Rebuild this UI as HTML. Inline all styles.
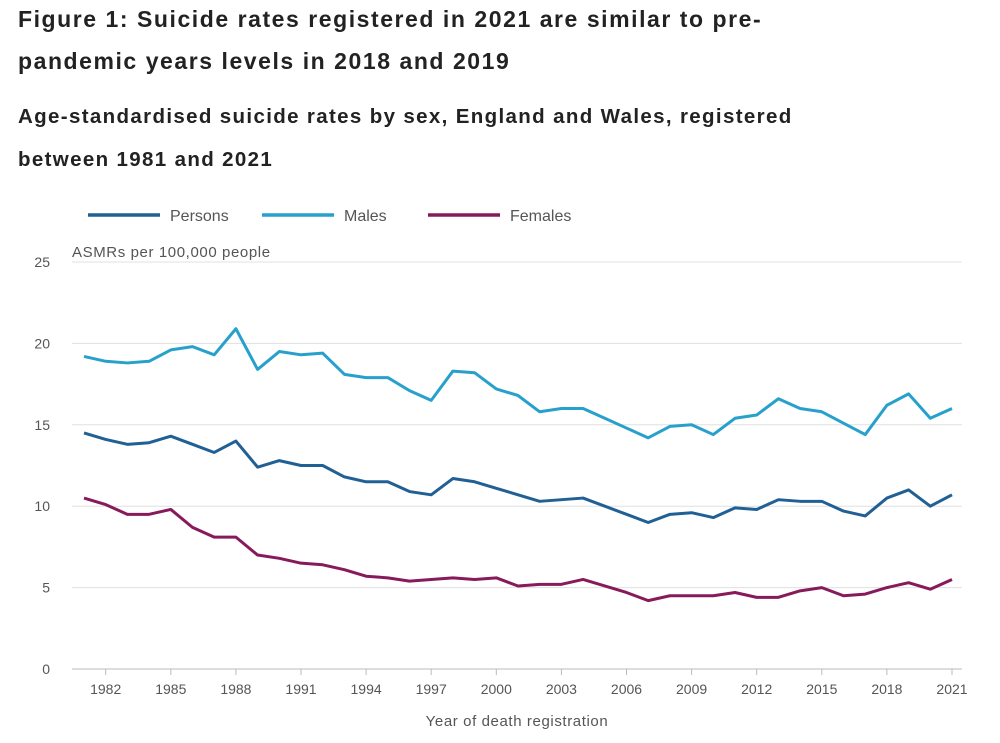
<!DOCTYPE html>
<html><head><meta charset="utf-8"><style>
body{margin:0;width:1000px;height:743px;background:#fff;font-family:"Liberation Sans",sans-serif;overflow:hidden;position:relative}
.t{position:absolute;left:18px;font-weight:bold;color:#222;margin:0;white-space:nowrap}
</style></head><body>
<h1 class="t" style="top:-2px;font-size:23px;line-height:42px;letter-spacing:1.55px">Figure 1: Suicide rates registered in 2021 are similar to pre-<br>pandemic years levels in 2018 and 2019</h1>
<h2 class="t" style="top:95px;font-size:20.5px;line-height:43px;letter-spacing:1.35px">Age-standardised suicide rates by sex, England and Wales, registered<br>between 1981 and 2021</h2>
<svg id="c" width="1000" height="743" style="position:absolute;left:0;top:0" font-family="Liberation Sans, sans-serif"></svg>
<script>
const years=[];for(let y=1981;y<=2021;y++)years.push(y);
const persons=[14.5,14.1,13.8,13.9,14.3,13.8,13.3,14.0,12.4,12.8,12.5,12.5,11.8,11.5,11.5,10.9,10.7,11.7,11.5,11.1,10.7,10.3,10.4,10.5,10.0,9.5,9.0,9.5,9.6,9.3,9.9,9.8,10.4,10.3,10.3,9.7,9.4,10.5,11.0,10.0,10.7];
const males=[19.2,18.9,18.8,18.9,19.6,19.8,19.3,20.9,18.4,19.5,19.3,19.4,18.1,17.9,17.9,17.1,16.5,18.3,18.2,17.2,16.8,15.8,16.0,16.0,15.4,14.8,14.2,14.9,15.0,14.4,15.4,15.6,16.6,16.0,15.8,15.1,14.4,16.2,16.9,15.4,16.0];
const females=[10.5,10.1,9.5,9.5,9.8,8.7,8.1,8.1,7.0,6.8,6.5,6.4,6.1,5.7,5.6,5.4,5.5,5.6,5.5,5.6,5.1,5.2,5.2,5.5,5.1,4.7,4.2,4.5,4.5,4.5,4.7,4.4,4.4,4.8,5.0,4.5,4.6,5.0,5.3,4.9,5.5];
const yTicks=[0,5,10,15,20,25];
const xTicks=[1982,1985,1988,1991,1994,1997,2000,2003,2006,2009,2012,2015,2018,2021];
const svg=document.getElementById('c');const NS='http://www.w3.org/2000/svg';
const x=v=>84+(v-1981)*(952-84)/40;
const y=v=>669-v*(669-262)/25;
function mk(t,a,p){const e=document.createElementNS(NS,t);for(const k in a)e.setAttribute(k,a[k]);(p||svg).appendChild(e);return e;}
yTicks.forEach(v=>{
 const g=mk('line',{x1:72,x2:962,y1:y(v),y2:y(v),stroke:v===0?'#bbb':'#e0e0e0','stroke-width':1});
 
 
 const t=mk('text',{x:50,y:y(v)+5,'text-anchor':'end','font-size':14,fill:'#555'});t.textContent=v;
 
 
});
xTicks.forEach(v=>{
 const l=mk('line',{x1:x(v),x2:x(v),y1:669,y2:675,stroke:'#bbb'});
 
 
 const t=mk('text',{x:x(v),y:694,'text-anchor':'middle','font-size':14,fill:'#555'});t.textContent=v;
 
 
});
const yt=mk('text',{x:72,y:257,'font-size':15,fill:'#555','letter-spacing':0.6});yt.textContent='ASMRs per 100,000 people';


const xt=mk('text',{x:517,y:726,'text-anchor':'middle','font-size':15,fill:'#555','letter-spacing':0.6});xt.textContent='Year of death registration';


const series=[['persons',persons,'#206095','Persons',88],['males',males,'#27a0cc','Males',262],['females',females,'#871a5b','Females',428]];
series.forEach(([n,d,c,lab,lx])=>{
 const p=mk('polyline',{points:d.map((v,i)=>x(years[i])+','+y(v)).join(' '),fill:'none',stroke:c,'stroke-width':3,'stroke-linejoin':'round'});
 
 
 const ll=mk('line',{x1:lx,x2:lx+72,y1:215,y2:215,stroke:c,'stroke-width':3.5});
 
 
 const lt=mk('text',{x:lx+82,y:221,'font-size':16,fill:'#555'});lt.textContent=lab;
 
 
});
</script>
</body></html>
